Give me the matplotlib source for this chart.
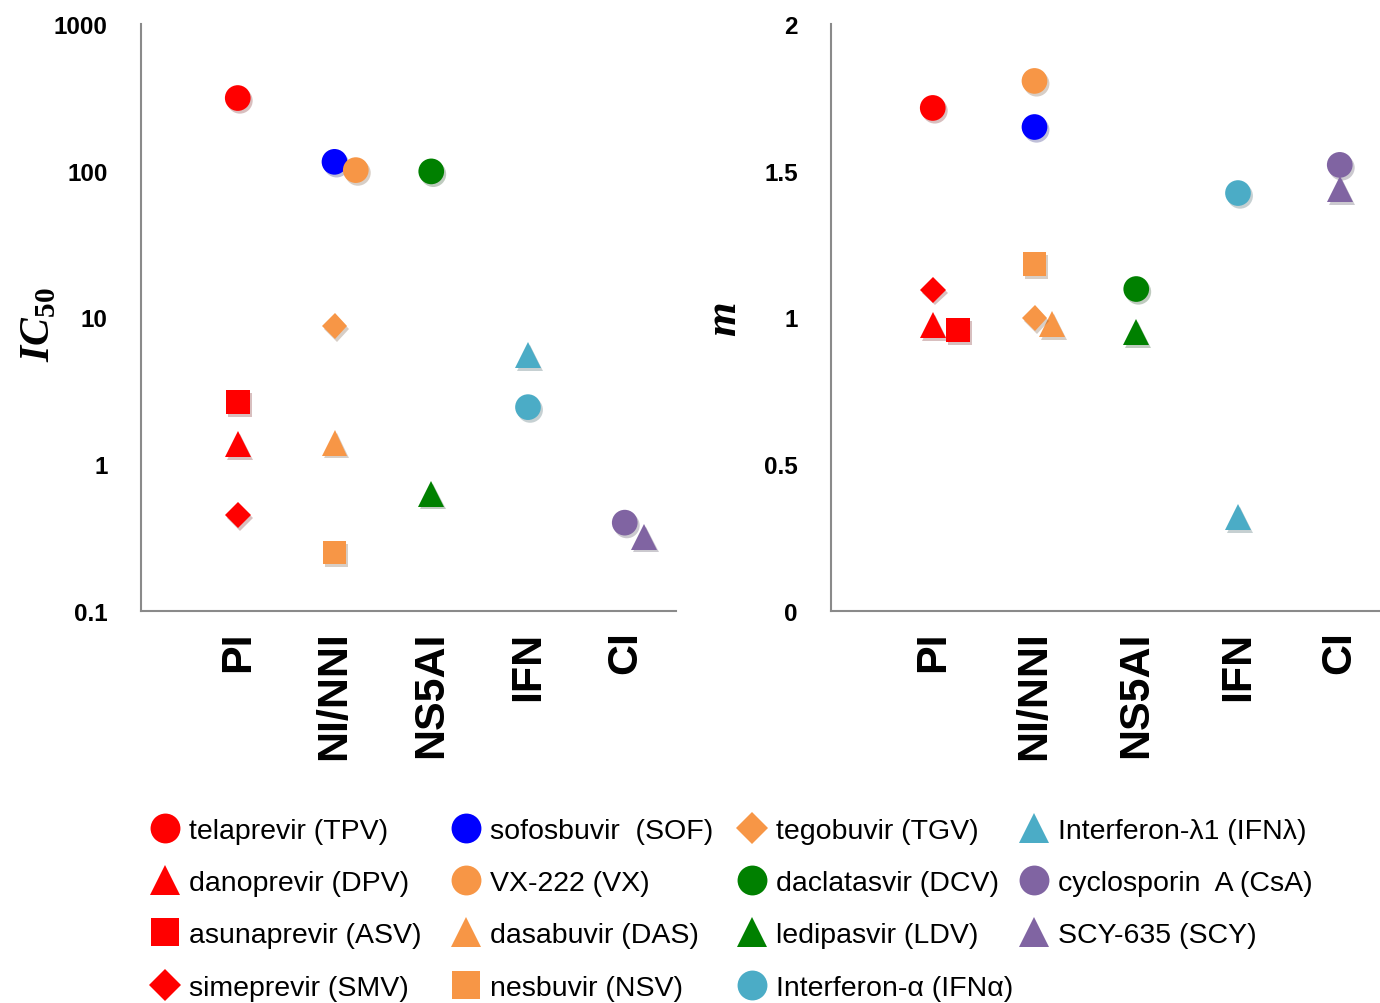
import matplotlib
matplotlib.use("Agg")
import matplotlib.pyplot as plt
import matplotlib.patheffects as pe
from matplotlib.lines import Line2D

plt.rcParams['font.family'] = ['Liberation Sans', 'DejaVu Sans']
plt.rcParams['mathtext.fontset'] = 'custom'
plt.rcParams['mathtext.rm'] = 'Liberation Serif'
plt.rcParams['mathtext.bf'] = 'Liberation Serif:bold'
plt.rcParams['mathtext.bfit'] = 'Liberation Serif:italic:bold'

categories = ['PI', 'NI/NNI', 'NS5AI', 'IFN', 'CI']

drugs = ['telaprevir (TPV)', 'danoprevir (DPV)', 'asunaprevir (ASV)', 'simeprevir (SMV)',
         'sofosbuvir  (SOF)', 'VX-222 (VX)', 'dasabuvir (DAS)', 'nesbuvir (NSV)',
         'tegobuvir (TGV)', 'daclatasvir (DCV)', 'ledipasvir (LDV)', 'Interferon-α (IFNα)',
         'Interferon-λ1 (IFNλ)', 'cyclosporin  A (CsA)', 'SCY-635 (SCY)']
colors = ['#FF0000', '#FF0000', '#FF0000', '#FF0000',
          '#0000FF', '#F79646', '#F79646', '#F79646',
          '#F79646', '#008000', '#008000', '#4BACC6',
          '#4BACC6', '#8064A2', '#8064A2']
markers = ['o', '^', 's', 'D', 'o', 'o', '^', 's', 'D', 'o', '^', 'o', '^', 'o', '^']

# x positions (category index, with small offsets where points overlap)
x_ic50 = [1, 1, 1, 1, 2, 2.22, 2, 2, 2, 3, 3, 4, 4, 5, 5.2]
ic50 = [313, 1.37, 2.65, 0.45, 115, 101, 1.4, 0.25, 8.75, 99, 0.63, 2.45, 5.55, 0.40, 0.32]

x_m = [1, 1, 1.25, 1, 2, 2, 2.17, 2, 2, 3, 3, 4, 4, 5, 5]
m_vals = [1.714, 0.974, 0.957, 1.094, 1.649, 1.806, 0.978, 1.182, 0.998, 1.097, 0.951,
          1.424, 0.32, 1.52, 1.438]

msize = {'o': 18.5, '^': 18.5, 's': 17, 'D': 13}
shadow = [pe.SimplePatchShadow(offset=(1.5, -2), alpha=0.25, rho=0.4), pe.Normal()]

W, H = 1380, 1004
fig = plt.figure(figsize=(W / 100, H / 100), dpi=100)
ax1 = fig.add_axes([141 / W, 1 - 612 / H, 535 / W, 587 / H])
ax2 = fig.add_axes([831 / W, 1 - 612 / H, 549 / W, 587 / H])

for i in range(len(drugs)):
    ax1.plot(x_ic50[i], ic50[i], linestyle='none', marker=markers[i],
             markersize=msize[markers[i]], color=colors[i], markeredgewidth=0,
             path_effects=shadow)
    ax2.plot(x_m[i], m_vals[i], linestyle='none', marker=markers[i],
             markersize=msize[markers[i]], color=colors[i], markeredgewidth=0,
             path_effects=shadow)

ax1.set_yscale('log')
ax1.set_ylim(0.1, 1000)
ax1.set_yticks([0.1, 1, 10, 100, 1000])
ax1.set_yticklabels(['0.1', '1', '10', '100', '1000'])
ax1.minorticks_off()
ax1.set_xlim(0, 535 / 96.75)

ax2.set_ylim(0, 2)
ax2.set_yticks([0, 0.5, 1, 1.5, 2])
ax2.set_yticklabels(['0', '0.5', '1', '1.5', '2'])
ax2.set_xlim(0, 549 / 101.75)

for ax in (ax1, ax2):
    ax.set_xticks(range(1, 6))
    ax.set_xticklabels(categories, rotation=90, fontsize=31, fontweight='bold')
    ax.tick_params(axis='x', length=0, pad=14)
    ax.tick_params(axis='y', length=0, pad=24, labelsize=17.5)
    for lab in ax.get_yticklabels():
        lab.set_fontweight('bold')
    for s in ('top', 'right'):
        ax.spines[s].set_visible(False)
    for s in ('left', 'bottom'):
        ax.spines[s].set_color('#8a8a8a')
        ax.spines[s].set_linewidth(1.5)

fig.text(38 / W, 1 - 325 / H, r'$\mathbfit{IC}_{\mathbf{50}}$', rotation=90,
         fontsize=30, ha='center', va='center')
fig.text(724 / W, 1 - 320 / H, r'$\mathbfit{m}$', rotation=90,
         fontsize=32, ha='center', va='center')

# legend: 4 columns, column-major like the original
col_x = [165, 466, 752, 1034]
fs = 20.5
hl = 1.0
for c in range(4):
    idx = list(range(c * 4, min(c * 4 + 4, len(drugs))))
    handles = [Line2D([], [], linestyle='none', marker=markers[i], color=colors[i],
                      markersize=msize[markers[i]] + 3, markeredgewidth=0) for i in idx]
    fig.legend(handles, [drugs[i] for i in idx], loc='upper left',
               bbox_to_anchor=((col_x[c] - hl * fs * 100 / 72 / 2) / W, 1 - 819 / H),
               frameon=False, fontsize=fs, handlelength=hl, handletextpad=0.35,
               borderpad=0, borderaxespad=0, labelspacing=0.92)

fig.savefig('out.png', dpi=100)
